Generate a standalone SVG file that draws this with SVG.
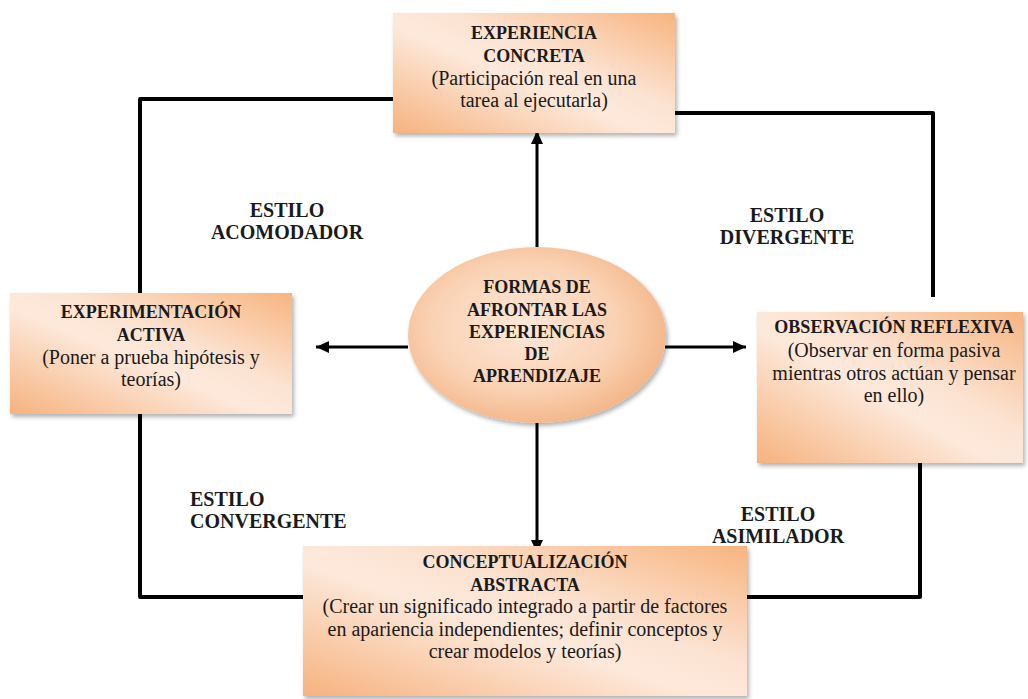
<svg xmlns="http://www.w3.org/2000/svg" width="1028" height="699" viewBox="0 0 1028 699">
<style>
  .box { stroke: none; filter: url(#sh); }
  .hd { font-family: "Liberation Serif", "Times New Roman", serif; font-weight: bold; font-size: 18px; fill: #1a1a1a; text-anchor: middle; }
  .tx { font-family: "Liberation Serif", "Times New Roman", serif; font-size: 20px; fill: #1a1a1a; text-anchor: middle; }
  .lb { font-family: "Liberation Serif", "Times New Roman", serif; font-weight: bold; font-size: 20px; fill: #1a1a1a; }
  .loop { fill: none; stroke: #000; stroke-width: 4; stroke-linejoin: round; }
  .arr { fill: none; stroke: #000; stroke-width: 3; marker-end: url(#ah); }
</style>
<defs>
  <linearGradient id="g" x1="0" y1="1" x2="1" y2="0">
    <stop offset="0" stop-color="#f6b27e"/>
    <stop offset="0.45" stop-color="#fde9db"/>
    <stop offset="0.6" stop-color="#fce3d2"/>
    <stop offset="1" stop-color="#f7b47f"/>
  </linearGradient>
  <radialGradient id="ge" cx="0.45" cy="0.45" r="0.6">
    <stop offset="0" stop-color="#fde8d9"/>
    <stop offset="0.6" stop-color="#fad2b4"/>
    <stop offset="1" stop-color="#f3b283"/>
  </radialGradient>
  <filter id="sh" x="-5%" y="-5%" width="115%" height="120%">
    <feDropShadow dx="2" dy="3" stdDeviation="2" flood-color="#000" flood-opacity="0.3"/>
  </filter>
  <marker id="ah" markerUnits="userSpaceOnUse" markerWidth="14" markerHeight="12" refX="13" refY="6" orient="auto">
    <path d="M0,0 L13,6 L0,12 Z" fill="#000"/>
  </marker>
</defs>

<g id="connectors">
  <path class="loop" d="M393,99 L140,99 L140,293"/>
  <path class="loop" d="M675,113 L933,113 L933,297"/>
  <path class="loop" d="M140,414 L140,597 L303,597"/>
  <path class="loop" d="M920,463 L920,597 L747,597"/>
  <path class="arr" d="M537,247 L537,131"/>
  <path class="arr" d="M408,347 L316,347"/>
  <path class="arr" d="M665,347 L746,347"/>
  <path class="arr" d="M537,423 L537,553"/>
</g>

<g id="experiencia-concreta">
  <rect class="box" x="393" y="13" width="282" height="120" fill="url(#g)"/>
  <text class="hd" x="534" y="39">EXPERIENCIA</text>
  <text class="hd" x="534" y="62">CONCRETA</text>
  <text class="tx" x="534" y="85">(Participación real en una</text>
  <text class="tx" x="534" y="107">tarea al ejecutarla)</text>
</g>

<g id="experimentacion-activa">
  <rect class="box" x="10" y="293" width="282" height="121" fill="url(#g)"/>
  <text class="hd" x="151" y="318">EXPERIMENTACIÓN</text>
  <text class="hd" x="151" y="341">ACTIVA</text>
  <text class="tx" x="151" y="364">(Poner a prueba hipótesis y</text>
  <text class="tx" x="151" y="386">teorías)</text>
</g>

<g id="observacion-reflexiva">
  <rect class="box" x="757" y="312" width="266" height="151" fill="url(#g)"/>
  <text class="hd" x="894" y="333">OBSERVACIÓN REFLEXIVA</text>
  <text class="tx" x="894" y="357">(Observar en forma pasiva</text>
  <text class="tx" x="894" y="380">mientras otros actúan y pensar</text>
  <text class="tx" x="894" y="402">en ello)</text>
</g>

<g id="conceptualizacion-abstracta">
  <rect class="box" x="303" y="546" width="444" height="150" fill="url(#g)"/>
  <text class="hd" x="525" y="568">CONCEPTUALIZACIÓN</text>
  <text class="hd" x="525" y="591">ABSTRACTA</text>
  <text class="tx" x="525" y="613">(Crear un significado integrado a partir de factores</text>
  <text class="tx" x="525" y="636">en apariencia independientes; definir conceptos y</text>
  <text class="tx" x="525" y="658">crear modelos y teorías)</text>
</g>

<g id="centro">
  <ellipse class="box" cx="537" cy="335" rx="129" ry="88" fill="url(#ge)"/>
  <text class="hd" x="537" y="293">FORMAS DE</text>
  <text class="hd" x="537" y="316">AFRONTAR LAS</text>
  <text class="hd" x="537" y="338">EXPERIENCIAS</text>
  <text class="hd" x="537" y="360">DE</text>
  <text class="hd" x="537" y="382">APRENDIZAJE</text>
</g>

<g id="labels">
  <text class="lb" x="287" y="217" text-anchor="middle">ESTILO</text>
  <text class="lb" x="287" y="239" text-anchor="middle">ACOMODADOR</text>
  <text class="lb" x="787" y="222" text-anchor="middle">ESTILO</text>
  <text class="lb" x="787" y="244" text-anchor="middle">DIVERGENTE</text>
  <text class="lb" x="190" y="506">ESTILO</text>
  <text class="lb" x="190" y="528">CONVERGENTE</text>
  <text class="lb" x="778" y="521" text-anchor="middle">ESTILO</text>
  <text class="lb" x="778" y="543" text-anchor="middle">ASIMILADOR</text>
</g>
</svg>
